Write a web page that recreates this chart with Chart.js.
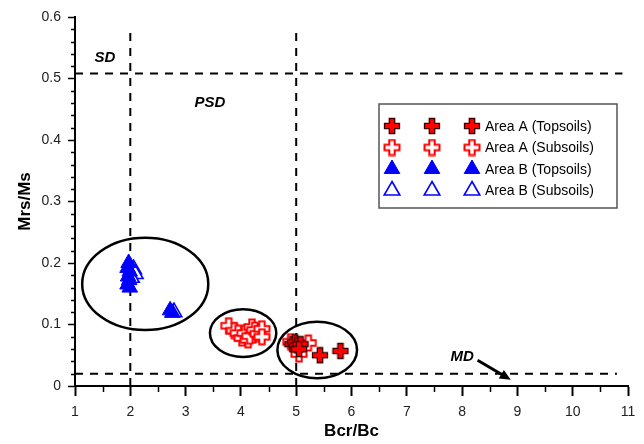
<!DOCTYPE html>
<html>
<head>
<meta charset="utf-8">
<script src="https://cdn.jsdelivr.net/npm/chart.js@4/dist/chart.umd.min.js"></script>
<style>
  html, body { margin: 0; padding: 0; background: #fff; }
  #wrap { width: 644px; height: 444px; }
</style>
</head>
<body>
<div id="wrap"><canvas id="chart" width="644" height="444"></canvas></div>
<script>
// --- data ---
const areaATopX = [4.93, 4.98, 5.02, 5.08, 5.05, 5.43, 5.80];
const areaATopY = [0.068, 0.071, 0.066, 0.068, 0.060, 0.050, 0.057];
const areaASubX = [3.78, 3.88, 3.95, 4.02, 4.07, 4.13, 4.16, 4.20, 4.25, 4.31, 4.38, 4.38, 4.90, 5.05, 5.22];
const areaASubY = [0.098, 0.090, 0.086, 0.078, 0.086, 0.075, 0.081, 0.096, 0.091, 0.085, 0.093, 0.080, 0.072, 0.052, 0.070];
const areaBTopX = [1.97, 1.95, 1.99, 1.96, 1.98, 1.95, 1.99, 2.72, 2.76];
const areaBTopY = [0.200, 0.192, 0.186, 0.178, 0.172, 0.165, 0.160, 0.123, 0.119];
const areaBSubX = [2.06, 2.09, 2.02, 2.79];
const areaBSubY = [0.190, 0.182, 0.176, 0.120];

// domain boundary lines (Day plot)
const sdLineX = [1, 10.9];
const sdLineY = [0.508, 0.508];
const mdLineX = [1, 10.8];
const mdLineY = [0.02, 0.02];
const bcr2LineX = [2, 2];
const bcr5LineX = [5, 5];
const vLineY = [0, 0.58];

// cluster ellipses: [centre x, centre y, radius x, radius y] in axis units
const clusterEllipses = [[2.27, 0.166, 1.14, 0.075], [4.04, 0.086, 0.60, 0.039], [5.38, 0.0585, 0.72, 0.046]];

const xMinorStep = 0.5;
const yMinorStep = 0.02;

const FONT = "'Liberation Sans', Arial, sans-serif";

function pts(xs, ys) {
    return xs.map((x, i) => ({ x: x, y: ys[i] }));
}

function crossImage(fill, stroke, lw) {
    const c = document.createElement('canvas');
    c.width = 18; c.height = 18;
    const g = c.getContext('2d');
    const a = 1.5, b = 6.3, d = 11.7, e = 16.5;
    g.beginPath();
    g.moveTo(b, a); g.lineTo(d, a); g.lineTo(d, b); g.lineTo(e, b); g.lineTo(e, d); g.lineTo(d, d);
    g.lineTo(d, e); g.lineTo(b, e); g.lineTo(b, d); g.lineTo(a, d); g.lineTo(a, b); g.lineTo(b, b);
    g.closePath();
    g.fillStyle = fill; g.fill();
    g.lineWidth = lw; g.strokeStyle = stroke; g.stroke();
    return c;
}

const filledCross = crossImage('#ff0000', '#3a0000', 1.3);
const openCross = crossImage('#ffffff', '#ff0000', 2);

function dashed(xs, ys) {
    return {
        type: 'line',
        data: pts(xs, ys),
        showLine: true,
        borderColor: '#000',
        borderWidth: 2,
        borderDash: [8, 7],
        pointRadius: 0,
        fill: false,
        order: 10,
        inLegend: false
    };
}

const decorPlugin = {
    id: 'decor',
    beforeDatasetsDraw(chart) {
        const ctx = chart.ctx, xs = chart.scales.x, ys = chart.scales.y;
        ctx.save();
        ctx.strokeStyle = '#000';
        ctx.lineWidth = 2.5;
        clusterEllipses.forEach(e => {
            const cx = xs.getPixelForValue(e[0]), cy = ys.getPixelForValue(e[1]);
            const rx = Math.abs(xs.getPixelForValue(e[0] + e[2]) - cx);
            const ry = Math.abs(ys.getPixelForValue(e[1] + e[3]) - cy);
            ctx.beginPath();
            ctx.ellipse(cx, cy, rx, ry, 0, 0, Math.PI * 2);
            ctx.stroke();
        });
        ctx.restore();
    },
    afterDraw(chart) {
        const ctx = chart.ctx, xs = chart.scales.x, ys = chart.scales.y;
        const area = chart.chartArea;
        ctx.save();

        // minor ticks
        ctx.strokeStyle = '#000';
        ctx.lineWidth = 1.5;
        ctx.beginPath();
        for (let v = 1 + xMinorStep; v < 11; v += 1) {
            const px = Math.round(xs.getPixelForValue(v)) + 0.5;
            ctx.moveTo(px, area.bottom); ctx.lineTo(px, area.bottom + 6);
        }
        for (let k = 1; k < 30; k++) {
            if (k % 5 === 0) continue;
            const py = Math.round(ys.getPixelForValue(k * yMinorStep)) + 0.5;
            ctx.moveTo(area.left, py); ctx.lineTo(area.left - 4, py);
        }
        ctx.stroke();

        // region labels
        ctx.fillStyle = '#000';
        ctx.font = 'italic bold 15px ' + FONT;
        ctx.textAlign = 'center';
        ctx.textBaseline = 'middle';
        ctx.fillText('SD', xs.getPixelForValue(1.54), ys.getPixelForValue(0.533));
        ctx.fillText('PSD', xs.getPixelForValue(3.44), ys.getPixelForValue(0.460));
        ctx.fillText('MD', xs.getPixelForValue(8.0), ys.getPixelForValue(0.047));

        // arrow to MD line
        const x0 = xs.getPixelForValue(8.28), y0 = ys.getPixelForValue(0.042);
        const x1 = xs.getPixelForValue(8.88), y1 = ys.getPixelForValue(0.010);
        const ang = Math.atan2(y1 - y0, x1 - x0);
        ctx.lineWidth = 3;
        ctx.beginPath();
        ctx.moveTo(x0, y0);
        ctx.lineTo(x1 - 8 * Math.cos(ang), y1 - 8 * Math.sin(ang));
        ctx.stroke();
        ctx.beginPath();
        ctx.moveTo(x1, y1);
        ctx.lineTo(x1 - 11 * Math.cos(ang) + 5 * Math.sin(ang), y1 - 11 * Math.sin(ang) - 5 * Math.cos(ang));
        ctx.lineTo(x1 - 11 * Math.cos(ang) - 5 * Math.sin(ang), y1 - 11 * Math.sin(ang) + 5 * Math.cos(ang));
        ctx.closePath();
        ctx.fill();

        // legend box
        const bx = area.left + 304, by = area.top + 87, bw = 238, bh = 104;
        ctx.fillStyle = '#fff';
        ctx.fillRect(bx, by, bw, bh);
        ctx.strokeStyle = '#555';
        ctx.lineWidth = 1.5;
        ctx.strokeRect(bx, by, bw, bh);
        const items = chart.data.datasets.filter(d => d.inLegend);
        ctx.font = '14px ' + FONT;
        ctx.textAlign = 'left';
        items.forEach((d, i) => {
            const ry = by + 22 + i * 21.5;
            [13, 53, 93].forEach(off => {
                ctx.fillStyle = d.backgroundColor;
                ctx.strokeStyle = d.borderColor;
                ctx.lineWidth = d.borderWidth;
                Chart.helpers.drawPoint(ctx, {
                    pointStyle: d.pointStyle, radius: d.pointRadius, rotation: 0, borderWidth: d.borderWidth
                }, bx + off, ry);
            });
            ctx.fillStyle = '#000';
            ctx.fillText(d.label, bx + 106, ry + 1);
        });
        ctx.restore();
    }
};

new Chart(document.getElementById('chart'), {
    type: 'scatter',
    data: {
        datasets: [
            {
                label: 'Area A (Topsoils)', data: pts(areaATopX, areaATopY),
                pointStyle: filledCross, pointRadius: 9, backgroundColor: '#ff0000', borderColor: '#3a0000',
                borderWidth: 1, order: 1, inLegend: true
            },
            {
                label: 'Area A (Subsoils)', data: pts(areaASubX, areaASubY),
                pointStyle: openCross, pointRadius: 9, backgroundColor: '#ffffff', borderColor: '#ff0000',
                borderWidth: 1.5, order: 2, inLegend: true
            },
            {
                label: 'Area B (Topsoils)', data: pts(areaBTopX, areaBTopY),
                pointStyle: 'triangle', pointRadius: 9, backgroundColor: '#0000ff', borderColor: '#0000ff',
                borderWidth: 1, order: 3, inLegend: true
            },
            {
                label: 'Area B (Subsoils)', data: pts(areaBSubX, areaBSubY),
                pointStyle: 'triangle', pointRadius: 9, backgroundColor: '#ffffff', borderColor: '#0000ff',
                borderWidth: 1.6, order: 4, inLegend: true
            },
            dashed(sdLineX, sdLineY),
            dashed(mdLineX, mdLineY),
            dashed(bcr2LineX, vLineY),
            dashed(bcr5LineX, vLineY)
        ]
    },
    options: {
        responsive: false,
        animation: false,
        events: [],
        layout: { padding: { left: 0, right: 16, top: 17, bottom: 0 } },
        plugins: {
            legend: { display: false },
            tooltip: { enabled: false }
        },
        scales: {
            x: {
                type: 'linear',
                min: 1,
                max: 11,
                afterFit: s => { s.height = 58; },
                border: { color: '#000', width: 2 },
                grid: { drawOnChartArea: false, drawTicks: true, tickLength: 10, color: '#000', tickWidth: 2 },
                ticks: { stepSize: 1, color: '#222', padding: 8, font: { family: FONT, size: 14 } },
                title: {
                    display: true, text: 'Bcr/Bc', color: '#000',
                    font: { family: FONT, size: 17, weight: 'bold' }, padding: { top: 0, bottom: 2 }
                }
            },
            y: {
                type: 'linear',
                min: 0,
                max: 0.6,
                afterFit: s => { s.width = 75; },
                border: { color: '#000', width: 2 },
                grid: { drawOnChartArea: false, drawTicks: true, tickLength: 7, color: '#000', tickWidth: 1.5 },
                ticks: { stepSize: 0.1, color: '#222', padding: 7, font: { family: FONT, size: 14 } },
                title: {
                    display: true, text: 'Mrs/Ms', color: '#000',
                    font: { family: FONT, size: 17, weight: 'bold' }, padding: { top: 15, bottom: 0 }
                }
            }
        }
    },
    plugins: [decorPlugin]
});
</script>
</body>
</html>
